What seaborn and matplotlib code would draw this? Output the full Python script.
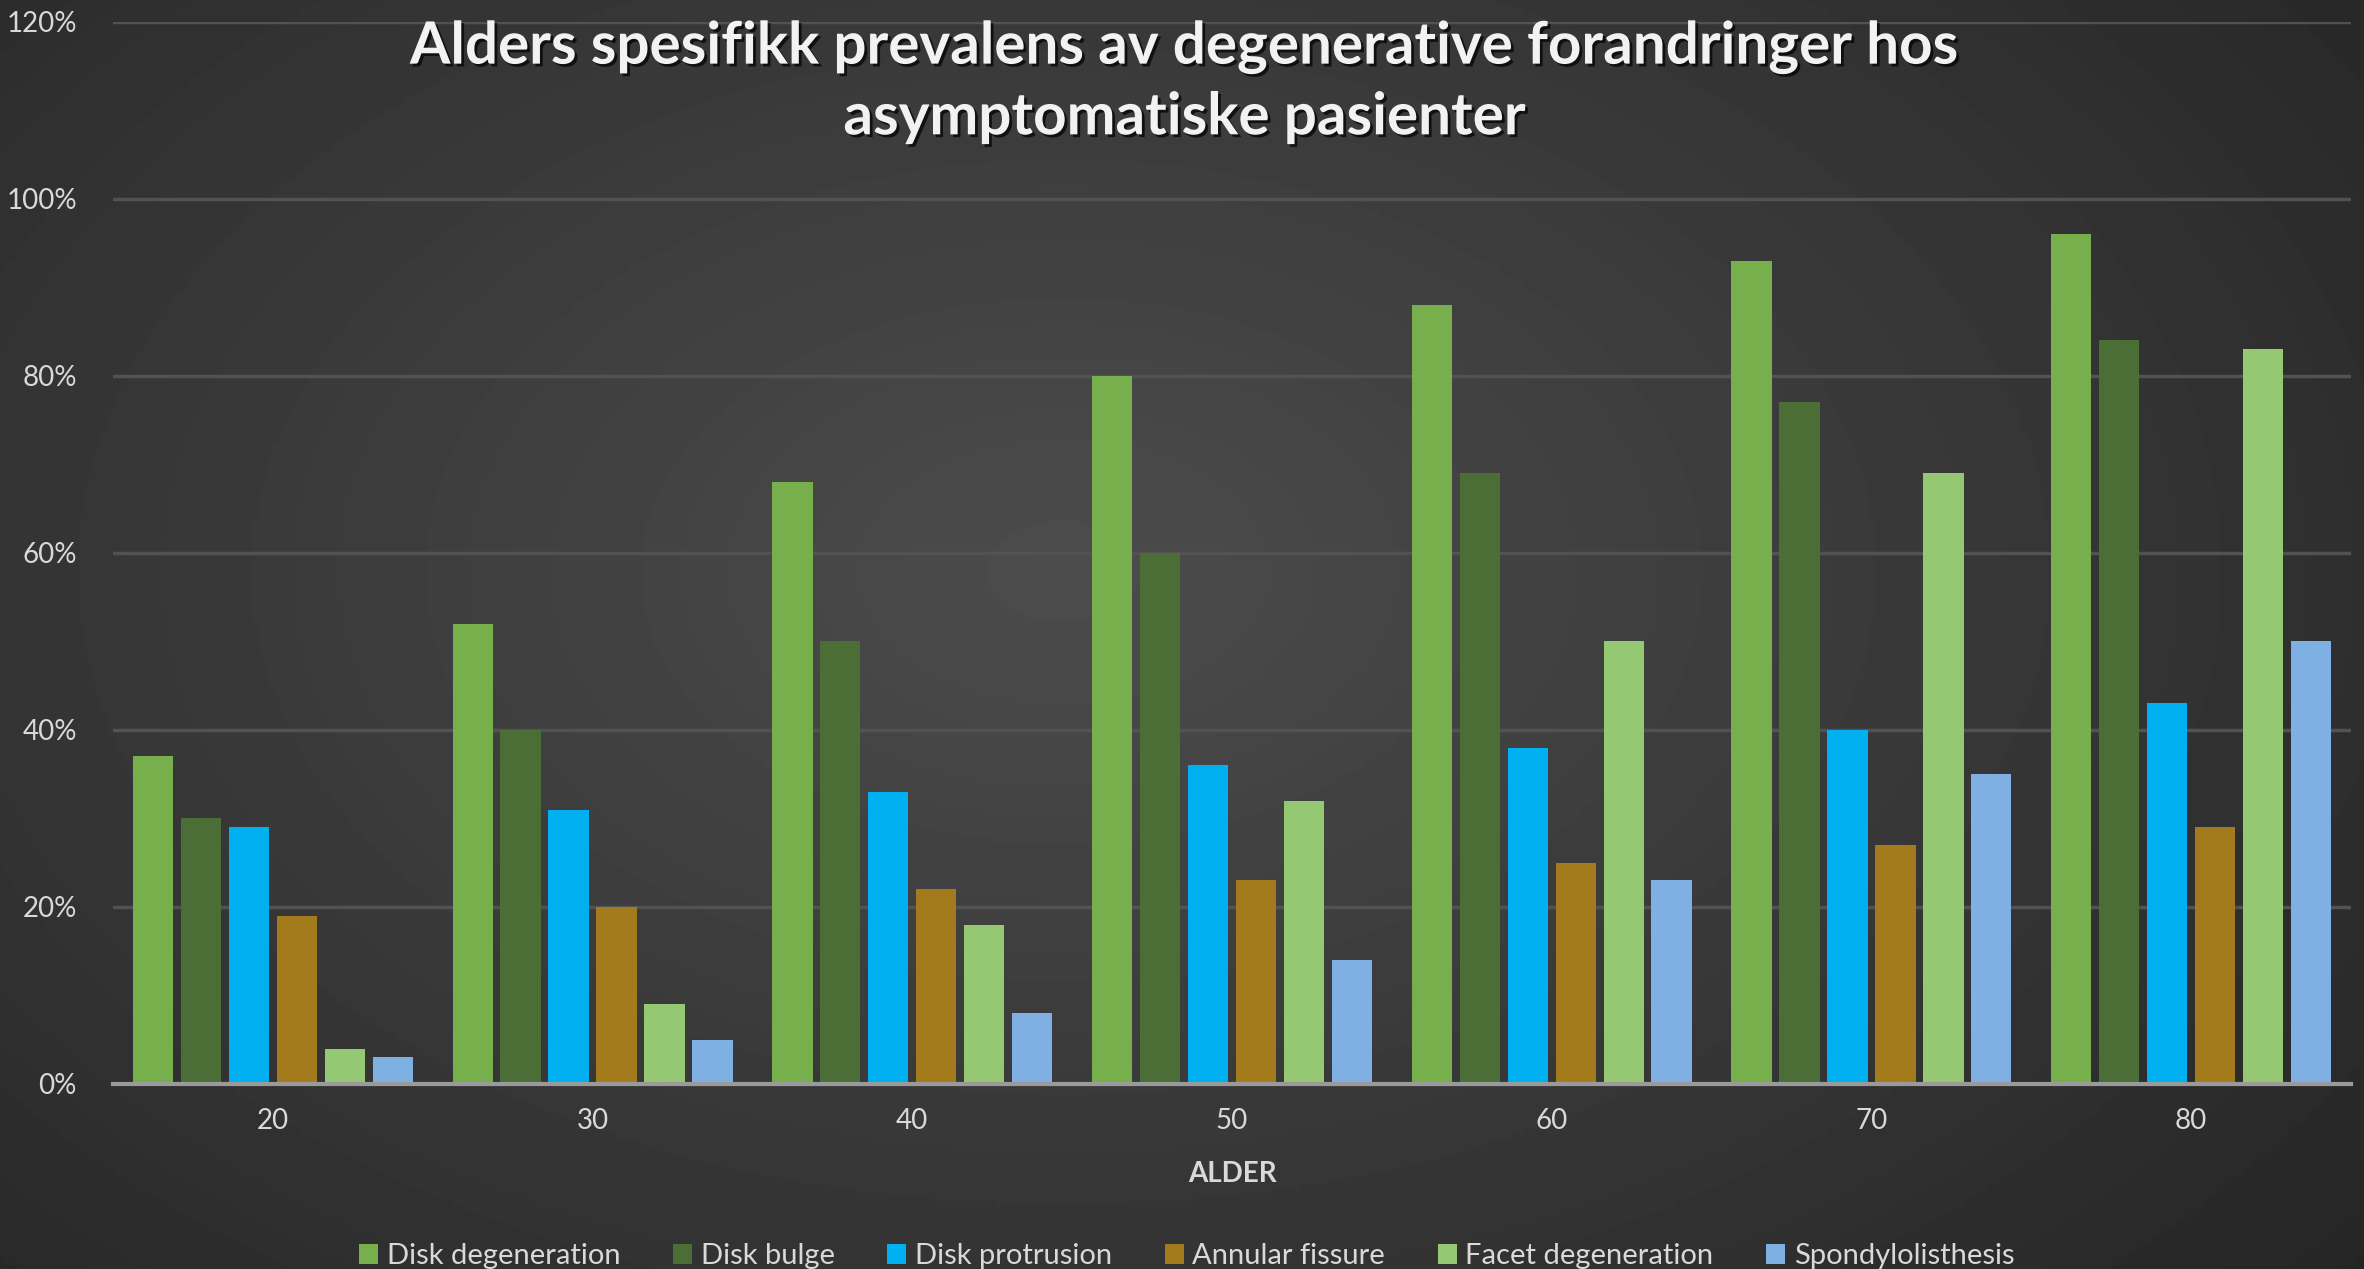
import matplotlib
matplotlib.use("Agg")
import matplotlib.pyplot as plt
import matplotlib.patheffects as pe
import seaborn as sns
import pandas as pd
import numpy as np

# data (percent)
ages = ["20", "30", "40", "50", "60", "70", "80"]
disk_degeneration = [37, 52, 68, 80, 88, 93, 96]
disk_bulge = [30, 40, 50, 60, 69, 77, 84]
disk_protrusion = [29, 31, 33, 36, 38, 40, 43]
annular_fissure = [19, 20, 22, 23, 25, 27, 29]
facet_degeneration = [4, 9, 18, 32, 50, 69, 83]
spondylolisthesis = [3, 5, 8, 14, 23, 35, 50]

series = {
    "Disk degeneration": disk_degeneration,
    "Disk bulge": disk_bulge,
    "Disk protrusion": disk_protrusion,
    "Annular fissure": annular_fissure,
    "Facet degeneration": facet_degeneration,
    "Spondylolisthesis": spondylolisthesis,
}
colors = ["#76af4c", "#4a6e35", "#00b0f0", "#a37a1c", "#94c872", "#7fb0e3"]

rows = []
for name, vals in series.items():
    for a, v in zip(ages, vals):
        rows.append({"Alder": a, "Verdi": v, "Serie": name})
df = pd.DataFrame(rows)

sns.set_style("dark")
plt.rcParams["font.family"] = ["Lato", "DejaVu Sans"]

fig = plt.figure(figsize=(23.64, 12.69), dpi=100)

# background: soft radial gradient
bg = fig.add_axes([0, 0, 1, 1], zorder=0)
yy, xx = np.mgrid[0:1:300j, 0:1:560j]
d = np.sqrt(((xx - 0.45) / 0.75) ** 2 + ((yy - 0.45) / 0.9) ** 2)
shade = 0.30 - 0.16 * np.clip(d, 0, 1)
bg.imshow(shade, cmap="gray", vmin=0, vmax=1, aspect="auto", extent=[0, 1, 0, 1])
bg.axis("off")

ax = fig.add_axes([0.0478, 0.1458, 0.9467, 0.8372], zorder=1)
ax.set_facecolor("none")

sns.barplot(data=df, x="Alder", y="Verdi", hue="Serie", palette=colors,
            width=0.9, gap=0.16, ax=ax, zorder=3, saturation=1,
            edgecolor="none", linewidth=0)

ax.set_ylim(0, 120)
ax.set_xlim(-0.5, 6.5)
ax.set_yticks(range(0, 121, 20))
ax.set_yticklabels([f"{t}%" for t in range(0, 121, 20)])
ax.grid(axis="y", color="#525252", linewidth=2.5, zorder=0)
ax.grid(axis="x", visible=False)
ax.tick_params(axis="both", length=0, colors="#d9d9d9", labelsize=20)
ax.tick_params(axis="y", pad=26)
ax.tick_params(axis="x", pad=17)
for s in ["top", "right", "left"]:
    ax.spines[s].set_visible(False)
ax.spines["bottom"].set_color("#9a9a9a")
ax.spines["bottom"].set_linewidth(3)
ax.spines["bottom"].set_zorder(4)

ax.set_ylabel("")
ax.set_xlabel("ALDER", color="#d9d9d9", fontsize=20, fontweight="bold", labelpad=20)

handles, labels = ax.get_legend_handles_labels()
ax.get_legend().remove()
fig.legend(handles, labels, loc="lower center", ncol=6, frameon=False,
           bbox_to_anchor=(0.502, -0.021), fontsize=21, labelcolor="#d9d9d9",
           handlelength=0.65, handleheight=0.65, handletextpad=0.3, columnspacing=1.8)

fig.text(0.501, 0.935, "Alders spesifikk prevalens av degenerative forandringer hos\nasymptomatiske pasienter",
         ha="center", va="center", color="#f2f2f2", fontsize=42, fontweight="bold",
         linespacing=1.4,
         path_effects=[pe.withSimplePatchShadow(offset=(2, -2), shadow_rgbFace="black", alpha=0.7)])

fig.savefig("out.png", dpi=100)
